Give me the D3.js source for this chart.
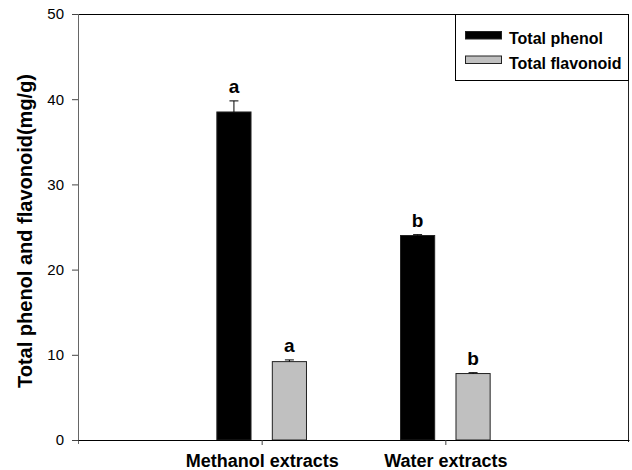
<!DOCTYPE html>
<html>
<head>
<meta charset="utf-8">
<script src="https://cdn.jsdelivr.net/npm/d3@7"></script>
<style>
  body { margin: 0; background: #fff; }
  svg text { font-family: "Liberation Sans", Arial, sans-serif; }
</style>
</head>
<body>
<div id="chart"></div>
<script>
// data
var groups = ["Methanol extracts", "Water extracts"];
var phenol = [38.5, 24.0];
var phenolErr = [1.3, 0.1];
var flavonoid = [9.2, 7.8];
var flavonoidErr = [0.2, 0.1];
var phenolLetters = ["a", "b"];
var flavonoidLetters = ["a", "b"];
var yTicks = [0, 10, 20, 30, 40, 50];

var width = 632;
var height = 470;

var margin = {
    top: 14,
    bottom: 30,
    left: 78,
    right: 3
};

var svg = d3.select('#chart')
    .append('svg')
    .attr('width', width)
    .attr('height', height);

var plotW = width - margin.left - margin.right;
var plotH = height - margin.top - margin.bottom;

var g = svg.append('g')
    .attr('transform', 'translate(' + margin.left + ',' + margin.top + ')');

// groups sit at 1 and 2 on a 0..3 axis
var x_scale = d3.scaleLinear()
    .domain([0, 3])
    .range([0, plotW]);

var y_scale = d3.scaleLinear()
    .domain([0, 50])
    .range([plotH, 0]);

var offset = 0.151;   // bar centre from group centre, in x units
var barW = x_scale(0.186) - x_scale(0);

var series = [
    { name: "Total phenol", values: phenol, err: phenolErr, letters: phenolLetters, fill: "#000000", dx: -offset },
    { name: "Total flavonoid", values: flavonoid, err: flavonoidErr, letters: flavonoidLetters, fill: "#c0c0c0", dx: offset }
];

// frame (top and right)
g.append('line')
    .attr('x1', 0).attr('x2', plotW)
    .attr('y1', 0.5).attr('y2', 0.5)
    .attr('stroke', '#000');
g.append('line')
    .attr('x1', plotW - 0.5).attr('x2', plotW - 0.5)
    .attr('y1', 0).attr('y2', plotH + 2)
    .attr('stroke', '#222');

// bars, error bars, letters
series.forEach(function(s, k) {
    var rows = groups.map(function(name, i) {
        return { pos: i + 1, v: s.values[i], e: s.err[i], letter: s.letters[i] };
    });

    g.selectAll('.bar' + k)
        .data(rows)
        .enter()
        .append('rect')
        .attr('class', 'bar' + k)
        .attr('x', function(d) { return x_scale(d.pos + s.dx) - barW / 2; })
        .attr('width', barW)
        .attr('y', function(d) { return y_scale(d.v); })
        .attr('height', function(d) { return plotH - y_scale(d.v); })
        .attr('fill', s.fill)
        .attr('stroke', '#222')
        .attr('stroke-width', 1);

    var eb = g.selectAll('.err' + k)
        .data(rows)
        .enter()
        .append('g')
        .attr('class', 'err' + k);
    eb.append('line')
        .attr('x1', function(d) { return x_scale(d.pos + s.dx); })
        .attr('x2', function(d) { return x_scale(d.pos + s.dx); })
        .attr('y1', function(d) { return y_scale(d.v); })
        .attr('y2', function(d) { return y_scale(d.v + d.e); })
        .attr('stroke', '#000');
    eb.append('line')
        .attr('x1', function(d) { return x_scale(d.pos + s.dx) - 4.5; })
        .attr('x2', function(d) { return x_scale(d.pos + s.dx) + 4.5; })
        .attr('y1', function(d) { return y_scale(d.v + d.e); })
        .attr('y2', function(d) { return y_scale(d.v + d.e); })
        .attr('stroke', '#000');

    g.selectAll('.letter' + k)
        .data(rows)
        .enter()
        .append('text')
        .attr('class', 'letter' + k)
        .attr('x', function(d) { return x_scale(d.pos + s.dx); })
        .attr('y', function(d) { return y_scale(d.v + d.e) - 8; })
        .attr('text-anchor', 'middle')
        .style('font-size', '19px')
        .style('font-weight', 'bold')
        .text(function(d) { return d.letter; });
});

// axes
var y_axis = d3.axisLeft(y_scale)
    .tickValues(yTicks)
    .tickSize(6)
    .tickPadding(8)
    .tickSizeOuter(0);

var yAxisG = g.append('g')
    .attr('class', 'y axis')
    .call(y_axis);
yAxisG.select('.domain').attr('stroke', '#666').attr('d', 'M0.5,0V' + (plotH + 4));
yAxisG.selectAll('.tick line').attr('stroke', '#444');
yAxisG.selectAll('text')
    .style('font-size', '15px')
    .attr('fill', '#000');

var x_axis = d3.axisBottom(x_scale)
    .tickValues([1, 2])
    .tickSize(5)
    .tickPadding(9)
    .tickSizeOuter(0)
    .tickFormat(function(d) { return groups[d - 1]; });

var xAxisG = g.append('g')
    .attr('class', 'x axis')
    .attr('transform', 'translate(0,' + plotH + ')')
    .call(x_axis);
xAxisG.select('.domain').attr('stroke', '#000');
xAxisG.selectAll('.tick line').attr('stroke', '#444');
xAxisG.selectAll('text')
    .style('font-size', '18px')
    .style('font-weight', 'bold')
    .attr('fill', '#000');

// y axis label
svg.append('text')
    .attr('transform', 'translate(32,231) rotate(-90)')
    .attr('text-anchor', 'middle')
    .style('font-size', '20px')
    .style('font-weight', 'bold')
    .text('Total phenol and flavonoid(mg/g)');

// legend
var legend = g.append('g')
    .attr('transform', 'translate(' + (plotW - 174) + ',0)');
legend.append('rect')
    .attr('x', 0.5).attr('y', 0.5)
    .attr('width', 173).attr('height', 66)
    .attr('fill', '#fff')
    .attr('stroke', '#000');

series.forEach(function(s, i) {
    legend.append('rect')
        .attr('x', 10.5)
        .attr('y', 17.5 + i * 24.5)
        .attr('width', 36)
        .attr('height', 7.5)
        .attr('fill', s.fill)
        .attr('stroke', '#222');
    legend.append('text')
        .attr('x', 54)
        .attr('y', 30 + i * 24.5)
        .style('font-size', '16px')
        .style('font-weight', 'bold')
        .text(s.name);
});
</script>
</body>
</html>
